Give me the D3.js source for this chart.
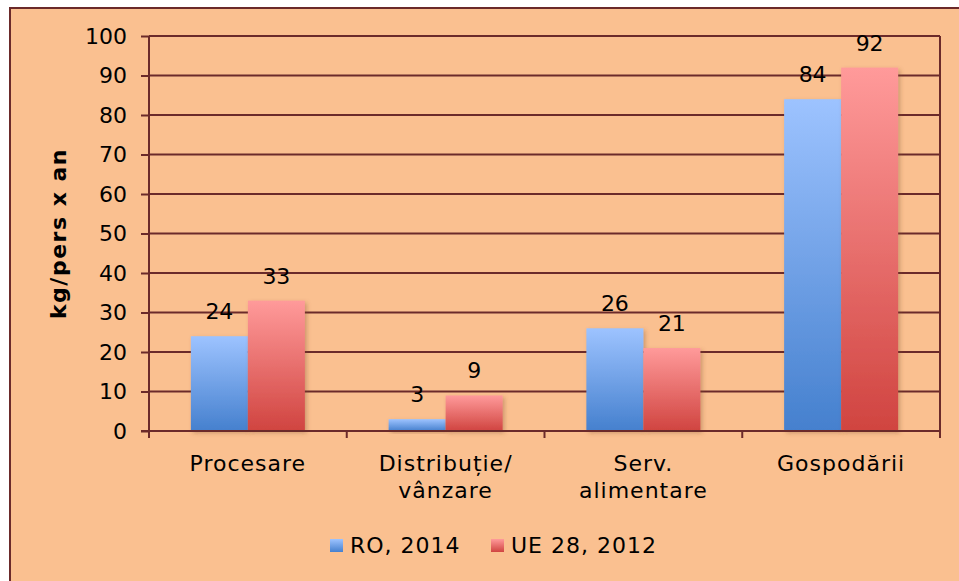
<!DOCTYPE html>
<html>
<head>
<meta charset="utf-8">
<script src="https://cdn.jsdelivr.net/npm/d3@7"></script>
<style>
  body { margin: 0; background: #ffffff; }
  text { font-family: "DejaVu Sans", Verdana, sans-serif; fill: #000; }
</style>
</head>
<body>
<script>
// Data
const categories = [["Procesare"], ["Distribuție/", "vânzare"], ["Serv.", "alimentare"], ["Gospodării"]];
const seriesNames = ["RO, 2014", "UE 28, 2012"];
const roValues = [24, 3, 26, 84];
const ueValues = [33, 9, 21, 92];
const yTicks = [0, 10, 20, 30, 40, 50, 60, 70, 80, 90, 100];

// Dimensions
const width = 959, height = 581;
const plotLeft = 149, plotRight = 940, plotTop = 36, plotBottom = 431;
const gridColor = "#6B2A2A";

const svg = d3.select("body").append("svg")
  .attr("width", width)
  .attr("height", height);

const defs = svg.append("defs");
function grad(id, c1, c2) {
  const g = defs.append("linearGradient").attr("id", id)
    .attr("x1", 0).attr("y1", 0).attr("x2", 0).attr("y2", 1);
  g.append("stop").attr("offset", "0%").attr("stop-color", c1);
  g.append("stop").attr("offset", "100%").attr("stop-color", c2);
}
grad("gBlue", "#9DC3FF", "#4580CE");
grad("gRed", "#FF9A9A", "#D04440");
const colors = ["url(#gBlue)", "url(#gRed)"];

const shadow = defs.append("filter").attr("id", "shadow")
  .attr("x", "-20%").attr("y", "-20%").attr("width", "140%").attr("height", "140%");
shadow.append("feDropShadow").attr("dx", 2).attr("dy", 2).attr("stdDeviation", 2)
  .attr("flood-color", "#7a4a2a").attr("flood-opacity", 0.35);

// Chart background and border
svg.append("rect")
  .attr("x", 10).attr("y", 8)
  .attr("width", width + 10).attr("height", height + 10)
  .attr("fill", "#FAC090")
  .attr("stroke", gridColor).attr("stroke-width", 2);

// Scales
const x = d3.scaleBand().domain(d3.range(categories.length)).range([plotLeft, plotRight]);
const xInner = d3.scaleBand().domain([0, 1]).range([0, 114]);
const y = d3.scaleLinear().domain([0, 100]).range([plotBottom, plotTop]);

// Gridlines
svg.append("g")
  .selectAll("line")
  .data(yTicks.filter(d => d > 0))
  .join("line")
  .attr("x1", plotLeft).attr("x2", plotRight)
  .attr("y1", d => y(d)).attr("y2", d => y(d))
  .attr("stroke", gridColor).attr("stroke-width", 2);

// Right border of plot
svg.append("line")
  .attr("x1", plotRight).attr("x2", plotRight)
  .attr("y1", plotTop).attr("y2", plotBottom + 7)
  .attr("stroke", gridColor).attr("stroke-width", 2);

// Bars
const data = categories.map((c, i) => [roValues[i], ueValues[i]]);
const groups = svg.append("g").selectAll("g")
  .data(data)
  .join("g")
  .attr("transform", (d, i) => `translate(${x(i) + (x.bandwidth() - 114) / 2},0)`);

groups.selectAll("rect")
  .data(d => d)
  .join("rect")
  .attr("x", (d, j) => xInner(j))
  .attr("y", d => y(d))
  .attr("width", xInner.bandwidth())
  .attr("height", d => plotBottom - y(d))
  .attr("fill", (d, j) => colors[j])
  .attr("filter", "url(#shadow)");

groups.selectAll("text")
  .data(d => d)
  .join("text")
  .attr("x", (d, j) => xInner(j) + xInner.bandwidth() / 2)
  .attr("y", d => y(d) - 17)
  .attr("text-anchor", "middle")
  .attr("font-size", 22)
  .text(d => d);

// Y axis
const yAxis = svg.append("g")
  .attr("transform", `translate(${plotLeft},0)`)
  .call(d3.axisLeft(y).tickValues(yTicks).tickSize(8).tickPadding(14));
yAxis.select(".domain").attr("stroke", gridColor).attr("stroke-width", 2)
  .attr("d", `M0,${plotTop}V${plotBottom + 7}`);
yAxis.selectAll(".tick line").attr("stroke", gridColor).attr("stroke-width", 2);
yAxis.selectAll(".tick text").attr("font-size", 22)
  .attr("font-family", "DejaVu Sans, Verdana, sans-serif").attr("fill", "#000");

// X axis
svg.append("line")
  .attr("x1", plotLeft - 8).attr("x2", plotRight)
  .attr("y1", plotBottom).attr("y2", plotBottom)
  .attr("stroke", gridColor).attr("stroke-width", 2);
svg.append("g").selectAll("line")
  .data(d3.range(1, categories.length))
  .join("line")
  .attr("x1", i => x(i)).attr("x2", i => x(i))
  .attr("y1", plotBottom).attr("y2", plotBottom + 7)
  .attr("stroke", gridColor).attr("stroke-width", 2);

const catLabels = svg.append("g").selectAll("text")
  .data(categories)
  .join("text")
  .attr("x", (d, i) => x(i) + x.bandwidth() / 2)
  .attr("y", 471)
  .attr("text-anchor", "middle")
  .attr("font-size", 22)
  .attr("letter-spacing", 1);
catLabels.selectAll("tspan")
  .data(d => d)
  .join("tspan")
  .attr("x", function () { return this.parentNode.getAttribute("x"); })
  .attr("dy", (d, k) => k === 0 ? 0 : 27)
  .text(d => d);

// Y label
svg.append("text")
  .attr("transform", `translate(66,${(plotTop + plotBottom) / 2}) rotate(-90)`)
  .attr("text-anchor", "middle")
  .attr("font-size", 22)
  .attr("font-weight", "bold")
  .attr("letter-spacing", 1.5)
  .text("kg/pers x an");

// Legend
const legendX = [330, 491];
const legend = svg.append("g").selectAll("g")
  .data(seriesNames)
  .join("g")
  .attr("transform", (d, i) => `translate(${legendX[i]},539)`);
legend.append("rect")
  .attr("width", 13).attr("height", 13)
  .attr("fill", (d, i) => colors[i]);
legend.append("text")
  .attr("x", 20).attr("y", 14)
  .attr("font-size", 22)
  .attr("letter-spacing", 1)
  .text(d => d);
</script>
</body>
</html>
